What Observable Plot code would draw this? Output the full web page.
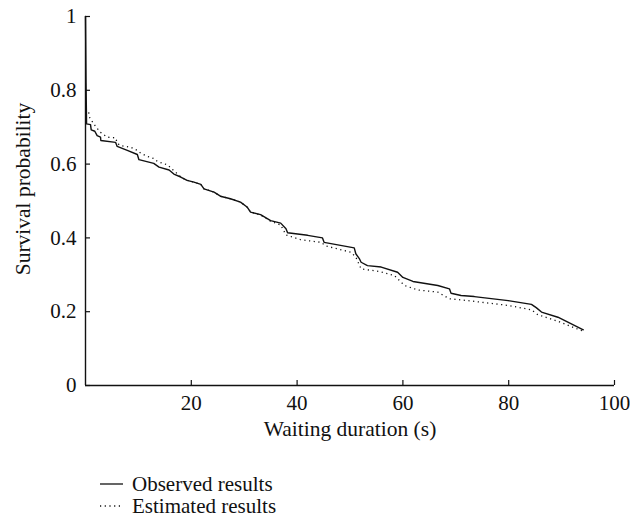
<!DOCTYPE html>
<html>
<head>
<meta charset="utf-8">
<script src="https://cdn.jsdelivr.net/npm/d3@7"></script>
<script src="https://cdn.jsdelivr.net/npm/@observablehq/plot@0.6"></script>
<style>
  html, body { margin: 0; padding: 0; background: #fff; }
  body { width: 630px; height: 520px; overflow: hidden; font-family: "Liberation Serif", "DejaVu Serif", serif; color: #111; }
  #chart svg { display: block; }
  #legend { margin-top: 23px; margin-left: 100px; font-size: 21px; line-height: 22px; }
  .row { display: flex; align-items: center; height: 22px; }
  .row svg { margin-right: 8px; }
</style>
</head>
<body>
<div id="chart"></div>
<div id="legend"></div>
<script>
// Observed survival curve (time in s, survival probability)
const obsTime = [0, 0.1, 0.2, 0.95, 1.08, 1.76, 2.2, 2.84, 2.9, 5.68, 5.99, 7.9, 9.8, 10.1, 12.9, 13.9, 15.8, 16.7, 18.0, 19.2, 20.5, 21.8, 22.4, 24.3, 25.5, 27.4, 29.3, 30.6, 31.2, 33.1, 35.0, 36.9, 37.9, 38.2, 42.0, 44.8, 45.1, 50.8, 51.1, 51.8, 52.1, 53.3, 55.9, 59.0, 60.0, 61.9, 66.6, 68.8, 69.1, 71.0, 73.5, 79.9, 84.3, 85.2, 86.2, 89.3, 94.1];
const obsSurv = [1, 0.82, 0.709, 0.707, 0.693, 0.689, 0.677, 0.673, 0.664, 0.659, 0.648, 0.637, 0.626, 0.612, 0.602, 0.592, 0.584, 0.573, 0.565, 0.556, 0.551, 0.545, 0.533, 0.524, 0.513, 0.506, 0.497, 0.483, 0.470, 0.463, 0.447, 0.440, 0.425, 0.414, 0.407, 0.400, 0.388, 0.373, 0.357, 0.343, 0.334, 0.325, 0.321, 0.307, 0.293, 0.282, 0.271, 0.262, 0.250, 0.244, 0.241, 0.230, 0.220, 0.211, 0.199, 0.185, 0.151];

// Estimated survival curve
const estTime = [0.6, 0.82, 1.9, 2.84, 4.1, 5.7, 6.0, 6.6, 8.5, 9.8, 10.4, 11.7, 12.9, 13.6, 15.5, 17.4, 18.0, 19.2, 20.5, 21.8, 22.4, 24.3, 25.5, 27.4, 29.3, 30.6, 31.2, 33.1, 35.0, 36.9, 37.9, 40.7, 44.5, 45.5, 50.2, 51.1, 52.1, 55.6, 58.4, 60.3, 62.8, 66.6, 68.8, 71.0, 73.5, 79.9, 84.3, 85.5, 89.3, 94.1];
const estSurv = [0.74, 0.725, 0.702, 0.686, 0.673, 0.671, 0.657, 0.650, 0.646, 0.637, 0.630, 0.621, 0.615, 0.607, 0.598, 0.573, 0.565, 0.556, 0.551, 0.545, 0.533, 0.524, 0.513, 0.506, 0.497, 0.483, 0.470, 0.462, 0.445, 0.435, 0.408, 0.395, 0.388, 0.378, 0.361, 0.348, 0.316, 0.309, 0.298, 0.271, 0.259, 0.253, 0.235, 0.232, 0.228, 0.217, 0.205, 0.192, 0.174, 0.147];

const xTicks = [20, 40, 60, 80, 100];
const yTicks = [0, 0.2, 0.4, 0.6, 0.8, 1];
const yTickLabels = ["0", "0.2", "0.4", "0.6", "0.8", "1"];
const seriesNames = ["Observed results", "Estimated results"];
const xTitle = "Waiting duration (s)";
const yTitle = "Survival probability";

const observed = obsTime.map((t, i) => ({t, s: obsSurv[i]}));
const estimated = estTime.map((t, i) => ({t, s: estSurv[i]}));

const ink = "#111";
const chart = Plot.plot({
  width: 630,
  height: 450,
  marginLeft: 85,
  marginRight: 16,
  marginTop: 16,
  marginBottom: 65,
  style: {fontFamily: "'Liberation Serif', 'DejaVu Serif', serif", fontSize: "21px", color: ink, background: "#fff"},
  x: {domain: [0, 100]},
  y: {domain: [0, 1]},
  marks: [
    Plot.axisX({ticks: xTicks, tickSize: -5, tickPadding: 15, label: null, stroke: ink, strokeWidth: 1.2}),
    Plot.axisY({ticks: yTicks, tickSize: -5, label: null, tickFormat: (d) => yTickLabels[yTicks.indexOf(d)], stroke: ink, strokeWidth: 1.2}),
    Plot.ruleY([0], {stroke: ink, strokeWidth: 1.4}),
    Plot.ruleX([0], {stroke: ink, strokeWidth: 1.4}),
    Plot.line(estimated, {x: "t", y: "s", stroke: ink, strokeWidth: 1.3, strokeDasharray: "1.2,3.5", strokeLinecap: "butt"}),
    Plot.line(observed, {x: "t", y: "s", stroke: ink, strokeWidth: 1.4}),
    Plot.text([xTitle], {frameAnchor: "bottom", lineAnchor: "middle", textAnchor: "middle", dy: 44, fill: ink, fontSize: 21.5}),
    Plot.text([yTitle], {frameAnchor: "left", lineAnchor: "middle", textAnchor: "middle", dx: -62, dy: -12, rotate: -90, fill: ink, fontSize: 21.5})
  ]
});
document.getElementById("chart").appendChild(chart);

const legend = document.getElementById("legend");
const dashes = [null, "1.2,3.5"];
seriesNames.forEach((name, i) => {
  const row = document.createElement("div");
  row.className = "row";
  const sw = dashes[i] ? `stroke-dasharray="${dashes[i]}"` : "";
  row.innerHTML = `<svg width="24" height="10"><line x1="0" x2="23" y1="5" y2="5" stroke="${ink}" stroke-width="1.3" ${sw}/></svg><span>${name}</span>`;
  legend.appendChild(row);
});
</script>
</body>
</html>
